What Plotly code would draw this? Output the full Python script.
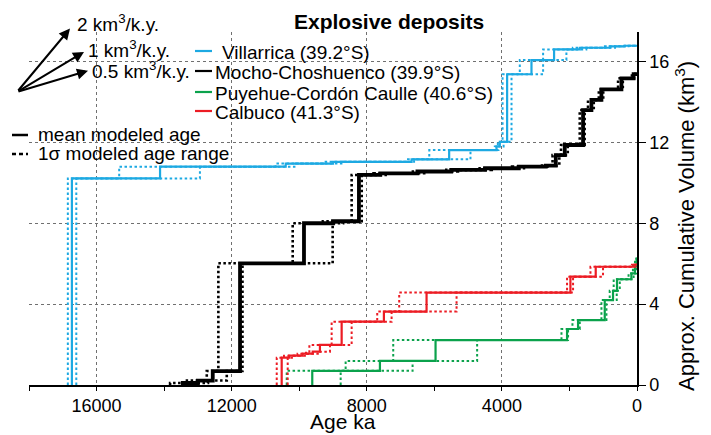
import plotly.graph_objects as go

# ---------------- data (ages in ka, cumulative volume in km3) ----------------
vil_vol = [10.22, 10.8, 10.95, 11.04, 11.16, 11.62, 11.8, 12.03, 15.37, 16.07, 16.6, 16.68, 16.75, 16.78]
vil_mean = [16730, 14120, 10400, 9000, 6673, 5561, 4159, 4061, 3845, 3124, 2455, 1695, 808, 364]
vil_old = [16850, 15330, 10700, 9300, 6780, 6150, 4210, 4120, 3980, 3470, 2780, 1900, 950, 450]
vil_young = [16600, 12940, 10100, 8700, 6600, 4930, 4100, 3950, 3715, 2780, 2090, 1500, 650, 250]

mch_vol = [0.1, 0.22, 0.69, 6.02, 8.0, 8.1, 10.39, 10.47, 10.56, 10.64, 10.72, 10.8, 10.85,
           11.37, 11.87, 13.6, 14.1, 14.62, 15.17, 15.38]
mch_mean = [13447, 13000, 12560, 11752, 9859, 9000, 8232, 7600, 6500, 5500, 4500, 3500, 2700,
            2404, 2139, 1597, 1349, 1053, 461, 100]
mch_old = [13823, 13400, 12737, 12394, 10193, 9300, 8448, 7800, 6700, 5700, 4700, 3700, 2850,
           2500, 2250, 1695, 1450, 1130, 560, 150]
mch_young = [13100, 12700, 12145, 11680, 9010, 8700, 8150, 7400, 6300, 5300, 4300, 3300, 2600,
             2300, 2050, 1550, 1280, 1000, 420, 50]

pcc_vol = [0.7, 1.19, 2.22, 2.77, 3.21, 4.2, 4.66, 5.23, 5.52, 5.9, 6.25]
pcc_mean = [9614, 7611, 5964, 2071, 1745, 955, 710, 592, 166, 60, 10]
pcc_old = [10370, 8626, 7217, 2236, 1911, 1053, 808, 690, 250, 120, 60]
pcc_young = [8773, 6644, 4733, 2041, 1695, 905, 600, 510, 100, 30, 0]

cal_vol = [1.35, 1.45, 1.55, 1.65, 1.98, 3.13, 3.63, 4.57, 5.36, 5.85, 5.95]
cal_mean = [10519, 10300, 9900, 9600, 9387, 8744, 7493, 6230, 1971, 1222, 68]
cal_old = [10666, 10450, 10050, 9800, 9700, 9040, 7691, 7040, 2071, 1378, 150]
cal_young = [10341, 10150, 9750, 9450, 9090, 8448, 7265, 5342, 1893, 1006, 20]

rates = [2, 1, 0.5]
rate_labels = ["2 km<sup>3</sup>/k.y.", "1 km<sup>3</sup>/k.y.", "0.5 km<sup>3</sup>/k.y."]

volcanoes = [
    ("Villarrica (39.2°S)", "#1DA9E2", vil_vol, vil_mean, vil_old, vil_young, 2.2, 2.0),
    ("Mocho-Choshuenco (39.9°S)", "#000000", mch_vol, mch_mean, mch_old, mch_young, 3.8, 2.6),
    ("Puyehue-Cordón Caulle (40.6°S)", "#0BA24C", pcc_vol, pcc_mean, pcc_old, pcc_young, 2.2, 2.0),
    ("Calbuco (41.3°S)", "#EC1C24", cal_vol, cal_mean, cal_old, cal_young, 2.2, 2.0),
]

X_RANGE = [18000, 0]
Y_RANGE = [0, 17.46]

# ---------------- layout geometry (page pixels; page body has an 8px margin) ----------------
PAGE_OFF = 8
W, H = 711 - PAGE_OFF, 435 - PAGE_OFF
L, R, T, B = 29, 637, 32, 385
FONT = "Liberation Sans, Arial, sans-serif"


def px2paper(x, y):
    return (x - L) / (R - L), (B - y) / (B - T)


def step_xy(ages, vols):
    xs = [ages[0]] + list(ages) + [0]
    ys = [0] + list(vols) + [vols[-1]]
    return xs, ys


fig = go.Figure()
for name, color, vol, mean, old, young, wsolid, wdot in volcanoes:
    for ages in (old, young):
        xs, ys = step_xy(ages, vol)
        fig.add_trace(go.Scatter(x=xs, y=ys, mode="lines", line_shape="hv",
                                 line=dict(color=color, width=wdot, dash="2.5px,2.5px"),
                                 showlegend=False, hoverinfo="skip"))
for name, color, vol, mean, old, young, wsolid, wdot in volcanoes:
    xs, ys = step_xy(mean, vol)
    fig.add_trace(go.Scatter(x=xs, y=ys, mode="lines", line_shape="hv",
                             line=dict(color=color, width=wsolid),
                             name=name, showlegend=False))

annotations = []
shapes = []


def text_ann(text, x, y, size, xanchor="left", bold=False, angle=0):
    px_, py_ = px2paper(x, y)
    return dict(text=("<b>%s</b>" % text) if bold else text, x=px_, y=py_,
                xref="paper", yref="paper", xanchor=xanchor, yanchor="middle",
                showarrow=False, textangle=angle,
                font=dict(size=size, family=FONT, color="black"))


annotations.append(text_ann("Explosive deposits", 389, 21, 21, "center", bold=True))
annotations.append(text_ann("Age ka", 343, 421, 21, "center"))
annotations.append(text_ann("Approx. Cumulative Volume (km<sup>3</sup>)", 685, 226, 22,
                            "center", angle=-90))

# rate arrows: slope from the axis scales
px_per_ka = (R - L) / (X_RANGE[0] - X_RANGE[1]) * 1000.0
px_per_km3 = (B - T) / (Y_RANGE[1] - Y_RANGE[0])
tail = (17, 92)
arrow_dx = [53, 67, 71]
label_pos = [(75, 23), (86, 49), (90, 70)]
for r, lab, dx, (lx, ly) in zip(rates, rate_labels, arrow_dx, label_pos):
    dy = dx * r * px_per_km3 / px_per_ka
    hx, hy = px2paper(tail[0] + dx, tail[1] - dy)
    annotations.append(dict(x=hx, y=hy, xref="paper", yref="paper", ax=-dx, ay=dy,
                            axref="pixel", ayref="pixel", showarrow=True, arrowhead=2,
                            arrowsize=1.1, arrowwidth=2, arrowcolor="black", text=""))
    annotations.append(text_ann(lab, lx, ly, 19))

# volcano legend
leg_y = [51, 71, 92, 111]
leg_tx = [220, 213, 213, 213]
for (name, color, *_), y, txp in zip(volcanoes, leg_y, leg_tx):
    x0, y0 = px2paper(195, y)
    x1, _ = px2paper(212, y)
    shapes.append(dict(type="line", xref="paper", yref="paper", x0=x0, x1=x1, y0=y0, y1=y0,
                       line=dict(color=color, width=2.2)))
    annotations.append(text_ann(name, txp, y + 1, 19))

# line-style legend
for lab, y, dash in [("mean modeled age", 135, "solid"), ("1σ modeled age range", 154, "4px,3px")]:
    x0, y0 = px2paper(12, y)
    x1, _ = px2paper(28, y)
    shapes.append(dict(type="line", xref="paper", yref="paper", x0=x0, x1=x1, y0=y0, y1=y0,
                       line=dict(color="black", width=2.5, dash=dash)))
    annotations.append(text_ann(lab, 36, y - 1, 19))

fig.update_layout(
    width=W, height=H,
    margin=dict(l=L - PAGE_OFF, r=711 - R, t=T - PAGE_OFF, b=435 - B, pad=0),
    paper_bgcolor="white", plot_bgcolor="white",
    font=dict(family=FONT, size=18, color="black"),
    annotations=annotations, shapes=shapes, showlegend=False,
    xaxis=dict(range=X_RANGE, tick0=0, dtick=4000, tickformat="d", ticks="outside", ticklen=4,
               tickwidth=1, tickcolor="black", showline=True, linecolor="black", linewidth=1.5,
               showgrid=True, gridcolor="#707070", griddash="3px,3px", gridwidth=1,
               zeroline=False, tickfont=dict(size=18),
               minor=dict(dtick=2000, tick0=0, ticks="outside", ticklen=4, tickcolor="black",
                          showgrid=False)),
    yaxis=dict(range=Y_RANGE, side="right", tickvals=[0, 4, 8, 12, 16], ticks="outside",
               ticklen=7, tickcolor="black", showline=True, linecolor="black", linewidth=1.5,
               showgrid=True, gridcolor="#707070", griddash="3px,3px", gridwidth=1,
               zeroline=False, tickfont=dict(size=18)),
)

fig.write_html("out.html")
